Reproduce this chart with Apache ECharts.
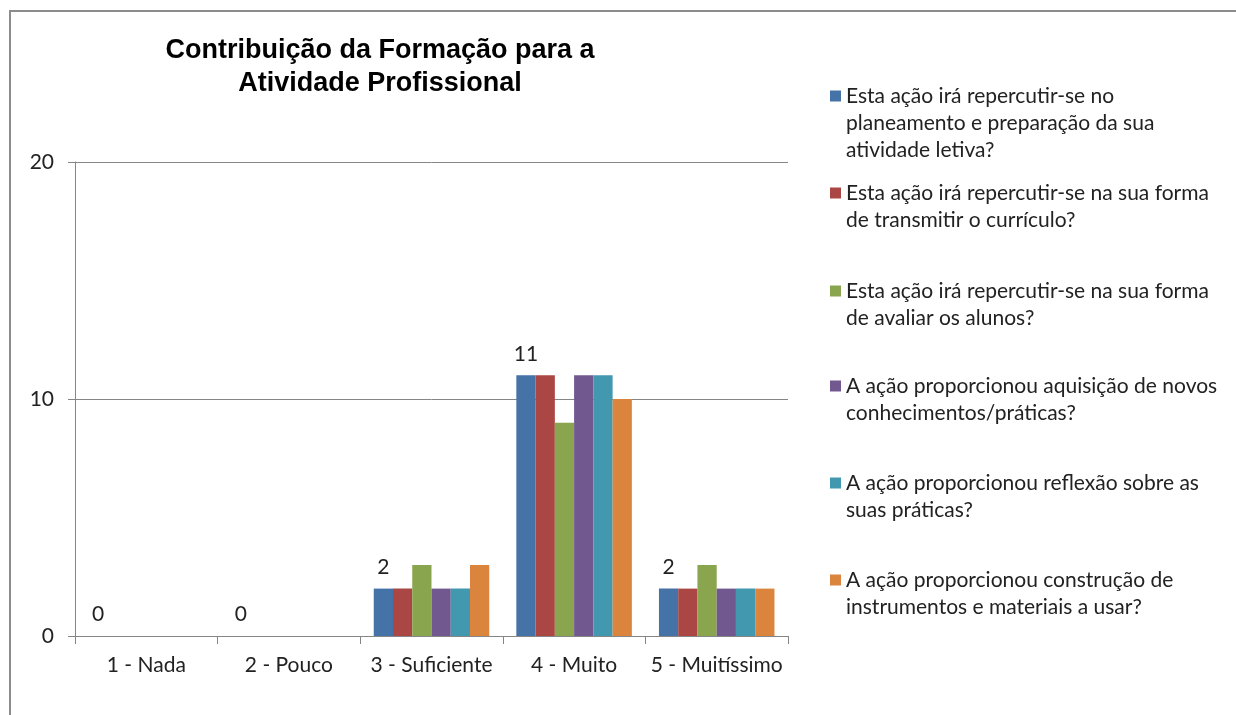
<!DOCTYPE html>
<html>
<head>
<meta charset="utf-8">
<script src="https://cdn.jsdelivr.net/npm/echarts@6/dist/echarts.min.js"></script>
<style>
  html, body { margin: 0; padding: 0; background: #fff; }
  #frame { position: absolute; left: 9px; top: 10px; width: 1300px; height: 800px;
           border-left: 2px solid #8c8c8c; border-top: 2px solid #8c8c8c; }
  #chart { position: absolute; left: 0; top: 0; width: 1236px; height: 715px; }
</style>
</head>
<body>
<div id="frame"></div>
<div id="chart"></div>
<script>
const categories = ['1 - Nada', '2 - Pouco', '3 - Suficiente', '4 - Muito', '5 - Muitíssimo']

const seriesNames = [
  'Esta ação irá repercutir-se no\nplaneamento e preparação da sua\natividade letiva?',
  'Esta ação irá repercutir-se na sua forma\nde transmitir o currículo?',
  'Esta ação irá repercutir-se na sua forma\nde avaliar os alunos?',
  'A ação proporcionou aquisição de novos\nconhecimentos/práticas?',
  'A ação proporcionou reflexão sobre as\nsuas práticas?',
  'A ação proporcionou construção de\ninstrumentos e materiais a usar?'
]

const planeamento = [0, 0, 2, 11, 2]
const transmitir = [0, 0, 2, 11, 2]
const avaliar = [0, 0, 3, 9, 3]
const aquisicao = [0, 0, 2, 11, 2]
const reflexao = [0, 0, 2, 11, 2]
const construcao = [0, 0, 3, 10, 2]

const yTicks = [0, 10, 20]

const colors = ['#4572A7', '#AA4643', '#89A54E', '#71588F', '#4198AF', '#DB843D']
const values = [planeamento, transmitir, avaliar, aquisicao, reflexao, construcao]

const font = 'Lato, "Open Sans", sans-serif'
const lh = 27
// centro da primeira linha de cada item da legenda
const legendY = [96, 193, 291, 386, 483, 580]

// o ícone fica centrado no bloco de texto: linhas vazias antes para alinhar com a 1ª linha
const legends = seriesNames.map((name, i) => {
  const n = name.split('\n').length
  return {
    orient: 'vertical',
    left: 830,
    top: legendY[i] - (2 * n - 1) * lh / 2,
    padding: 0,
    itemWidth: 11,
    itemHeight: 11,
    icon: 'rect',
    data: [name],
    formatter: (s) => '\n'.repeat(n - 1) + s,
    textStyle: {
      fontFamily: font,
      fontSize: 21,
      color: '#222',
      lineHeight: lh
    }
  }
})

const option = {
  animation: false,
  color: colors,
  title: {
    text: 'Contribuição da Formação para a\nAtividade Profissional',
    left: 380,
    top: 34,
    padding: 0,
    textAlign: 'center',
    textStyle: {
      fontFamily: '"Liberation Sans", Arial, sans-serif',
      fontWeight: 'bold',
      fontSize: 27,
      lineHeight: 33,
      color: '#000'
    }
  },
  legend: legends,
  grid: {
    left: 75,
    right: 448,
    top: 162,
    bottom: 79,
    containLabel: false
  },
  xAxis: {
    type: 'category',
    data: categories,
    axisLine: {lineStyle: {color: '#868686', width: 1}},
    axisTick: {show: true, length: 8, lineStyle: {color: '#868686'}},
    axisLabel: {interval: 0, hideOverlap: false, fontFamily: font, fontSize: 21, color: '#222', margin: 19}
  },
  yAxis: {
    type: 'value',
    min: yTicks[0],
    max: yTicks[yTicks.length - 1],
    interval: 10,
    axisLine: {show: true, lineStyle: {color: '#868686', width: 1}},
    axisTick: {show: true, length: 7, lineStyle: {color: '#868686'}},
    splitLine: {lineStyle: {color: '#868686', width: 1}},
    axisLabel: {fontFamily: font, fontSize: 21, color: '#222', margin: 21}
  },
  series: values.map((v, i) => ({
    name: seriesNames[i],
    type: 'bar',
    data: v,
    barGap: '0%',
    barCategoryGap: '19%',
    label: {
      show: i === 0,
      position: 'top',
      distance: 11,
      fontFamily: font,
      fontSize: 21,
      color: '#222'
    }
  }))
}

let chart = echarts.init(document.getElementById('chart'))
chart.setOption(option)
</script>
</body>
</html>
